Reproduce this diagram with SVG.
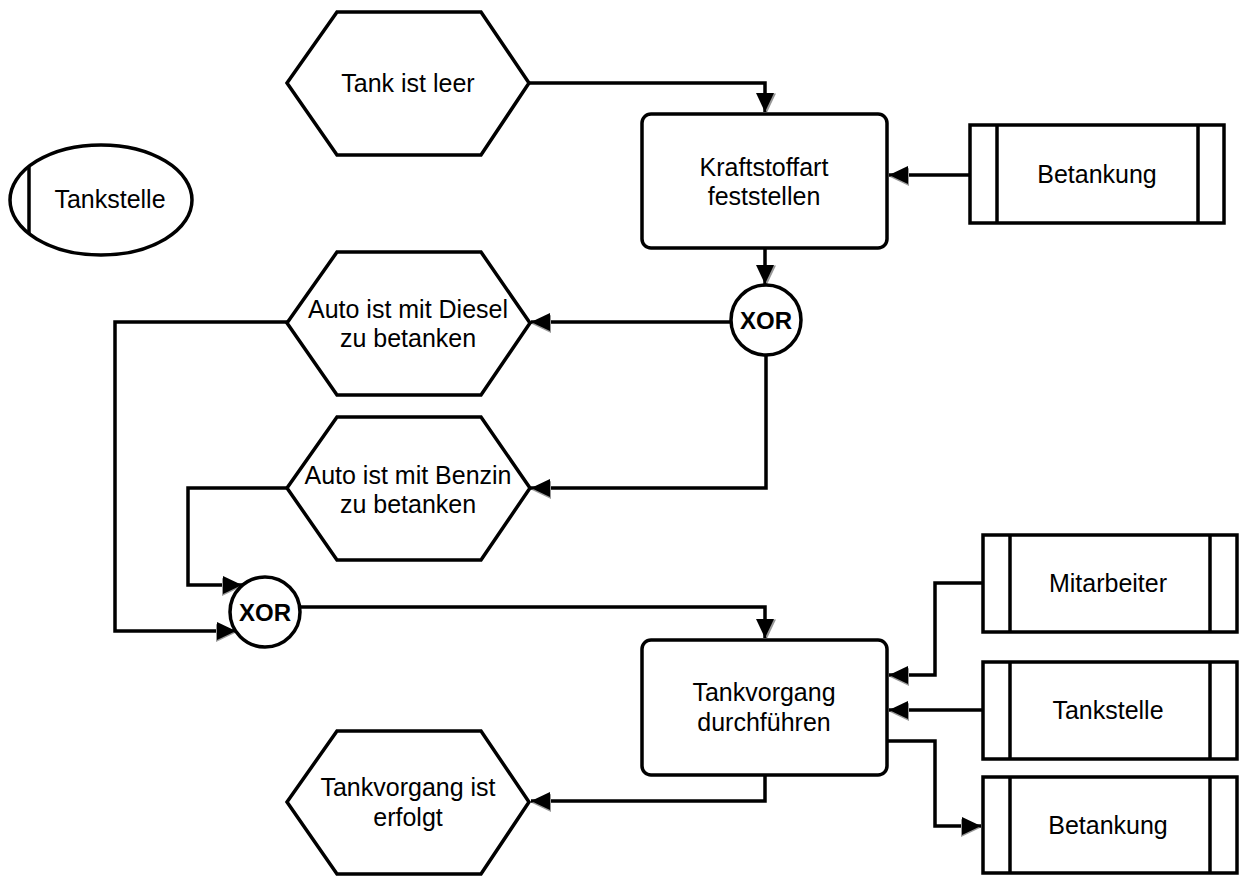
<svg xmlns="http://www.w3.org/2000/svg" width="1241" height="876" viewBox="0 0 1241 876">
<style>
.shape{fill:#fff;stroke:#000;stroke-width:3.5}
.line{fill:none;stroke:#000;stroke-width:3.5}
.conn{fill:none;stroke:#000;stroke-width:3.5}
text{font-family:"Liberation Sans",Arial,sans-serif;font-size:25px;fill:#000;text-anchor:middle}
.xor{font-weight:bold;font-size:24px}
</style>
<defs>
<marker id="aDown" markerUnits="userSpaceOnUse" markerWidth="24" markerHeight="24" refX="10" refY="20" orient="0">
<polygon points="12,20.5 3,1.5 21,1.5" fill="#999"/>
<polygon points="10,20 1,1 19,1" fill="#000"/>
</marker>
<marker id="aLeft" markerUnits="userSpaceOnUse" markerWidth="24" markerHeight="24" refX="1" refY="10" orient="0">
<polygon points="2,12 21,3 21,21" fill="#999"/>
<polygon points="1,10 20,1 20,19" fill="#000"/>
</marker>
<marker id="aRight" markerUnits="userSpaceOnUse" markerWidth="24" markerHeight="24" refX="21" refY="10" orient="0">
<polygon points="20,12 1,3 1,21" fill="#999"/>
<polygon points="21,10 2,1 2,19" fill="#000"/>
</marker>
</defs>
<rect width="1241" height="876" fill="#fff"/>

<g id="connectors">
<path class="conn" d="M529,83 H765 V112" marker-end="url(#aDown)"/>
<path class="conn" d="M970,175 H889" marker-end="url(#aLeft)"/>
<path class="conn" d="M765,248 V284" marker-end="url(#aDown)"/>
<path class="conn" d="M731,322 H531" marker-end="url(#aLeft)"/>
<path class="conn" d="M766,355 V488 H531" marker-end="url(#aLeft)"/>
<path class="conn" d="M287,322 H115 V631 H236" marker-end="url(#aRight)"/>
<path class="conn" d="M287,488 H188 V585 H242" marker-end="url(#aRight)"/>
<path class="conn" d="M300,607 H765 V638" marker-end="url(#aDown)"/>
<path class="conn" d="M983,583 H935 V675 H889" marker-end="url(#aLeft)"/>
<path class="conn" d="M983,710 H889" marker-end="url(#aLeft)"/>
<path class="conn" d="M887,741 H935 V826 H981" marker-end="url(#aRight)"/>
<path class="conn" d="M765,775 V801 H531" marker-end="url(#aLeft)"/>
</g>

<g id="ev-tank-leer">
<polygon class="shape" points="287,83 337,12 481,12 529,83 481,155 337,155"/>
<text x="408" y="92">Tank ist leer</text>
</g>

<g id="org-tankstelle">
<ellipse class="shape" cx="101" cy="200" rx="91" ry="55"/>
<line class="line" x1="29" y1="166" x2="29" y2="234"/>
<text x="110" y="208">Tankstelle</text>
</g>

<g id="fn-kraftstoffart">
<rect class="shape" x="642" y="114" width="245" height="134" rx="9"/>
<text x="764" y="176">Kraftstoffart</text>
<text x="764" y="205">feststellen</text>
</g>

<g id="info-betankung-1">
<rect class="shape" x="970" y="125" width="254" height="98"/>
<line class="line" x1="997" y1="125" x2="997" y2="223"/>
<line class="line" x1="1198" y1="125" x2="1198" y2="223"/>
<text x="1097" y="183">Betankung</text>
</g>

<g id="xor-1">
<circle class="shape" cx="766" cy="320" r="35"/>
<text class="xor" x="766" y="329">XOR</text>
</g>

<g id="ev-diesel">
<polygon class="shape" points="287,323 337,252 481,252 530,323 481,395 337,395"/>
<text x="408" y="318">Auto ist mit Diesel</text>
<text x="408" y="347">zu betanken</text>
</g>

<g id="ev-benzin">
<polygon class="shape" points="287,488 337,417 481,417 530,488 481,560 337,560"/>
<text x="408" y="484">Auto ist mit Benzin</text>
<text x="408" y="513">zu betanken</text>
</g>

<g id="xor-2">
<circle class="shape" cx="265" cy="612" r="35"/>
<text class="xor" x="265" y="621">XOR</text>
</g>

<g id="fn-tankvorgang">
<rect class="shape" x="642" y="640" width="245" height="135" rx="9"/>
<text x="764" y="701">Tankvorgang</text>
<text x="764" y="731">durchführen</text>
</g>

<g id="org-mitarbeiter">
<rect class="shape" x="983" y="535" width="254" height="97"/>
<line class="line" x1="1010" y1="535" x2="1010" y2="632"/>
<line class="line" x1="1210" y1="535" x2="1210" y2="632"/>
<text x="1108" y="592">Mitarbeiter</text>
</g>

<g id="org-tankstelle-2">
<rect class="shape" x="983" y="662" width="254" height="97"/>
<line class="line" x1="1010" y1="662" x2="1010" y2="759"/>
<line class="line" x1="1210" y1="662" x2="1210" y2="759"/>
<text x="1108" y="719">Tankstelle</text>
</g>

<g id="info-betankung-2">
<rect class="shape" x="983" y="777" width="254" height="96"/>
<line class="line" x1="1010" y1="777" x2="1010" y2="873"/>
<line class="line" x1="1210" y1="777" x2="1210" y2="873"/>
<text x="1108" y="834">Betankung</text>
</g>

<g id="ev-erfolgt">
<polygon class="shape" points="287,802 337,731 481,731 529,802 481,874 337,874"/>
<text x="408" y="796">Tankvorgang ist</text>
<text x="408" y="826">erfolgt</text>
</g>
</svg>
